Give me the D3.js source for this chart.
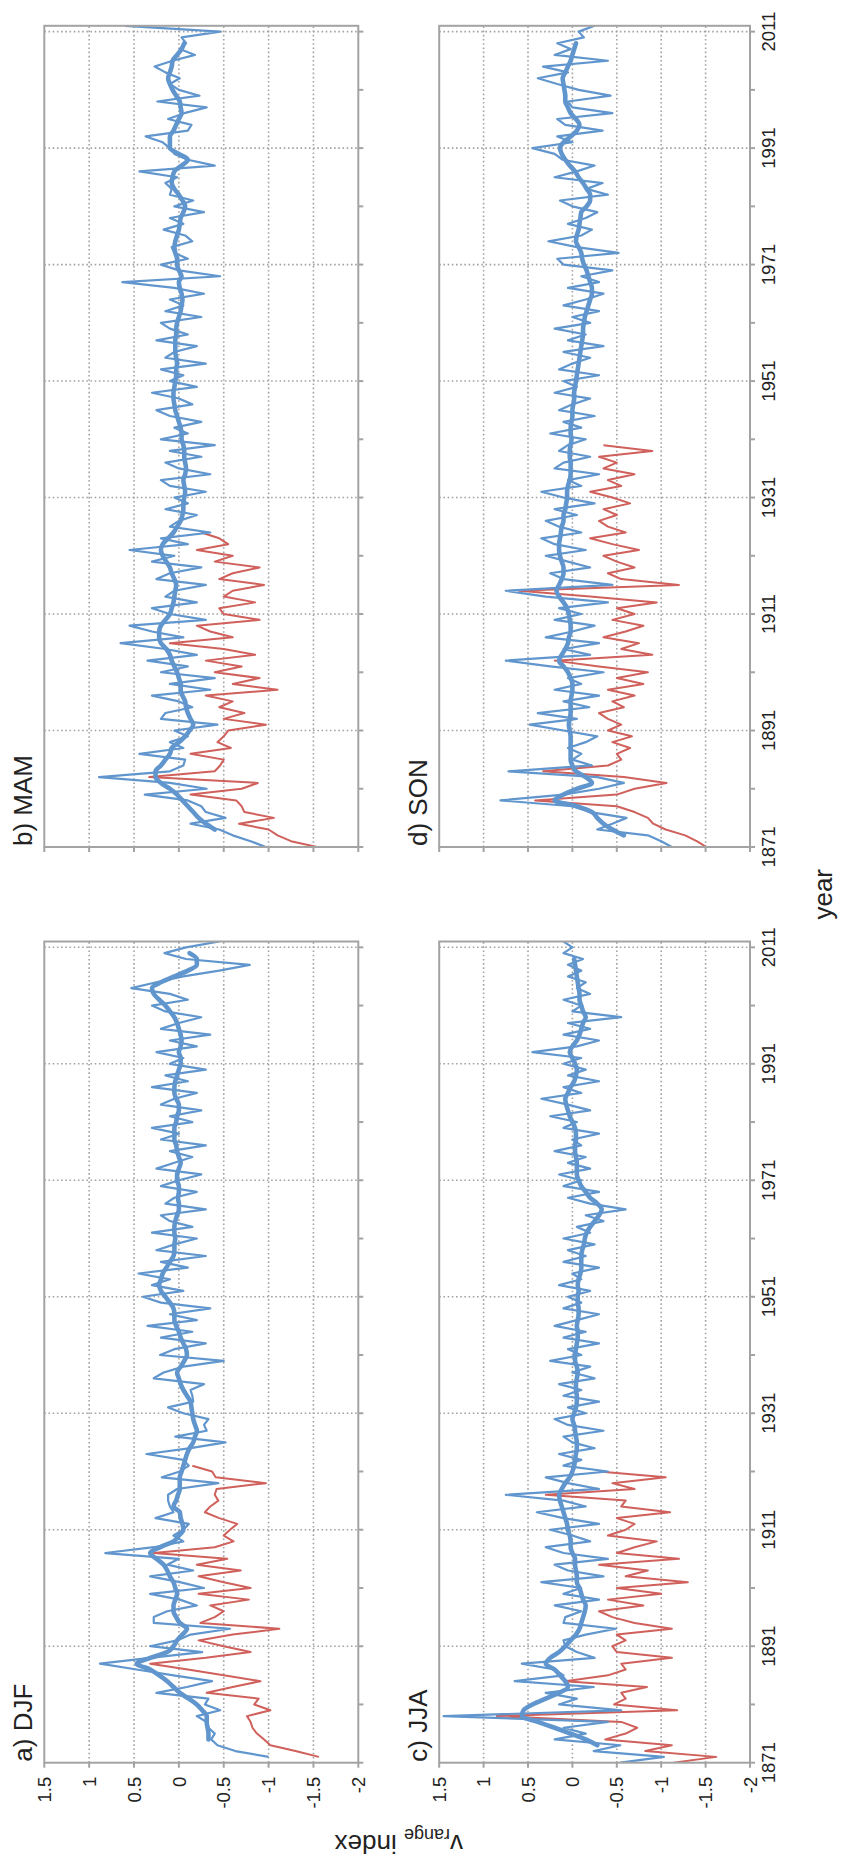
<!DOCTYPE html>
<html>
<head>
<meta charset="utf-8">
<script src="https://cdn.jsdelivr.net/npm/d3@7/dist/d3.min.js"></script>
<style>
  body { margin: 0; background: #fff; }
  text { font-family: "Liberation Sans", Arial, Helvetica, sans-serif; fill: #222; }
</style>
</head>
<body>
<div id="chart"></div>
<script>
// axis values
var valueTicks = [1.5, 1, 0.5, 0, -0.5, -1, -1.5, -2];
var valueGrid = [1, 0.5, 0, -0.5, -1, -1.5];
var yearTicks = [1871, 1881, 1891, 1901, 1911, 1921, 1931, 1941, 1951, 1961, 1971, 1981, 1991, 2001, 2011];
var yearGrid = [1891, 1911, 1931, 1951, 1971, 1991, 2011];
var yearLabels = [1871, 1891, 1911, 1931, 1951, 1971, 1991, 2011];

// DJF (winter of 1871/72 is 1872)
var djfStart = 1872;
var djfBlue = [-1.0, -0.63, -0.43, -0.36, -0.4, -0.33, -0.31, -0.2, -0.46, -0.29,
  -0.33, 0.25, -0.09, -0.37, 0.06, 0.47, 0.88, 0.32, -0.26, 0.32,
  0.02, -0.13, -0.57, 0.28, 0.28, 0.13, -0.2, -0.01, 0.32, -0.28,
  -0.01, 0.32, -0.16, 0.13, 0.0, 0.82, 0.28, -0.05, 0.06, -0.05,
  -0.11, 0.26, 0.06, 0.1, 0.12, 0.12, 0.02, -0.44, 0.19, -0.01,
  -0.11, -0.05, 0.36, -0.13, -0.52, 0.04, -0.31, -0.28, -0.33, -0.05,
  0.12, -0.16, -0.15, -0.13, -0.28, 0.28, 0.17, -0.05, -0.5, 0.21,
  0.05, -0.3, 0.2, -0.15, 0.35, -0.2, 0.1, -0.35, 0.2, 0.4,
  -0.05, 0.3, 0.1, 0.45, -0.1, 0.2, -0.3, 0.25, 0.05, -0.2,
  0.3, -0.15, 0.1, 0.2, -0.3, 0.15, 0.05, -0.2, 0.2, 0.0,
  -0.25, 0.25, 0.05, -0.15, 0.1, -0.3, 0.2, 0.0, 0.3, -0.15,
  0.1, -0.25, 0.2, 0.05, -0.2, 0.3, -0.1, 0.15, -0.3, 0.1,
  -0.05, 0.25, -0.2, 0.1, -0.35, 0.2, 0.0, -0.25, 0.15, 0.3,
  -0.1, 0.1, 0.53, 0.25, -0.05, -0.45, -0.79, -0.08, 0.16, -0.08,
  -0.45];
var djfThickStart = 1875;
var djfThick = [-0.33, -0.33, -0.32, -0.31, -0.31, -0.26, -0.2, -0.11, -0.01, 0.06,
  0.13, 0.22, 0.32, 0.47, 0.32, 0.13, 0.06, 0.02, -0.04, -0.09,
  -0.01, 0.03, 0.06, 0.06, 0.04, 0.02, 0.04, 0.06, 0.1, 0.13,
  0.17, 0.25, 0.32, 0.21, 0.06, 0.0, -0.05, -0.04, -0.02, -0.01,
  0.06, 0.03, 0.01, -0.01, -0.01, -0.01, -0.03, -0.05, -0.07, -0.09,
  -0.12, -0.16, -0.18, -0.2, -0.18, -0.16, -0.15, -0.14, -0.13, -0.09,
  -0.05, -0.02, 0.0, 0.02, -0.02, -0.06, -0.09, -0.08, -0.05, -0.02,
  0.0, 0.03, 0.05, 0.05, 0.06, 0.1, 0.15, 0.2, 0.22, 0.2,
  0.18, 0.14, 0.1, 0.06, 0.05, 0.05, 0.04, 0.05, 0.05, 0.04,
  0.02, 0.0, 0.0, 0.01, 0.0, 0.0, 0.02, 0.02, 0.0, -0.02,
  0.0, 0.02, 0.03, 0.05, 0.05, 0.05, 0.03, 0.02, 0.0, 0.0,
  0.03, 0.05, 0.05, 0.04, 0.02, 0.0, -0.02, -0.02, 0.0, -0.02,
  -0.03, -0.02, 0.0, 0.02, 0.05, 0.1, 0.15, 0.22, 0.28, 0.3,
  0.2, 0.05, -0.1, -0.2, -0.2, -0.12];
var djfRed = [-1.56, -1.3, -1.02, -0.95, -0.87, -0.82, -0.8, -0.76, -1.02, -0.84,
  -0.89, -0.31, -0.6, -0.91, -0.5, -0.1, 0.32, -0.3, -0.8, -0.5,
  -0.22, -0.6, -1.12, -0.24, -0.4, -0.5, -0.35, -0.78, -0.22, -0.8,
  -0.5, -0.22, -0.69, -0.2, -0.54, 0.28, -0.4, -0.61, -0.5, -0.57,
  -0.65, -0.45, -0.29, -0.35, -0.44, -0.4, -0.42, -0.97, -0.41, -0.37,
  -0.15];

// MAM
var mamStart = 1871;
var mamBlue = [-0.97, -0.8, -0.6, -0.45, -0.13, -0.52, -0.3, -0.25, -0.1, 0.38,
  -0.31, 0.1, 0.89, 0.1, -0.05, -0.07, 0.44, -0.05, 0.1, -0.1,
  0.05, -0.43, 0.2, 0.15, -0.15, 0.0, 0.3, -0.35, 0.1, -0.4,
  0.2, -0.1, 0.35, -0.2, 0.15, 0.65, -0.05, 0.3, 0.55, -0.3,
  0.1, 0.3, -0.2, 0.15, 0.05, -0.3, 0.25, 0.1, -0.25, 0.3,
  0.05, 0.55, -0.1, 0.2, -0.35, 0.1, 0.0, -0.2, 0.15, -0.1,
  0.05, -0.3, 0.1, 0.2, -0.35, 0.0, 0.15, -0.25, 0.1, -0.4,
  0.2, -0.1, 0.05, -0.25, 0.1, 0.25, -0.15, 0.0, 0.3, -0.2,
  0.1, -0.05, 0.2, -0.3, 0.15, 0.05, -0.2, 0.25, -0.1, 0.1,
  0.2, -0.25, 0.15, -0.05, 0.1, -0.28, 0.05, 0.63, -0.46, 0.0,
  0.2, -0.1, 0.05, 0.08, -0.15, -0.07, 0.17, -0.05, 0.1, -0.28,
  0.05, -0.16, 0.1, 0.08, 0.15, 0.02, 0.44, -0.4, -0.1, 0.05,
  0.1, 0.18, 0.37, -0.1, -0.14, 0.12, -0.06, -0.31, 0.24, -0.23,
  0.0, 0.1, -0.01, 0.15, 0.27, 0.07, -0.18, -0.01, -0.08, -0.03,
  -0.46, 0.6];
var mamThickStart = 1874;
var mamThick = [-0.4, -0.3, -0.22, -0.16, -0.1, -0.04, 0.02, 0.1, 0.2, 0.26,
  0.26, 0.2, 0.15, 0.1, 0.08, 0.0, -0.07, -0.12, -0.16, -0.13,
  -0.1, -0.08, -0.07, -0.04, -0.02, -0.02, 0.0, 0.02, 0.05, 0.08,
  0.1, 0.14, 0.2, 0.22, 0.22, 0.2, 0.15, 0.1, 0.08, 0.06,
  0.05, 0.04, 0.03, 0.05, 0.08, 0.1, 0.14, 0.18, 0.2, 0.18,
  0.12, 0.06, 0.02, -0.02, -0.04, -0.05, -0.05, -0.06, -0.07, -0.06,
  -0.05, -0.07, -0.08, -0.07, -0.06, -0.06, -0.05, -0.03, -0.03, -0.02,
  0.0, 0.02, 0.04, 0.05, 0.06, 0.06, 0.05, 0.04, 0.03, 0.03,
  0.02, 0.03, 0.04, 0.04, 0.04, 0.03, 0.03, 0.02, 0.0, -0.02,
  -0.03, -0.04, -0.03, -0.01, 0.0, -0.03, 0.0, 0.02, 0.02, 0.04,
  0.05, 0.04, 0.02, 0.0, -0.01, -0.02, -0.05, -0.07, -0.04, 0.0,
  0.05, 0.08, 0.07, 0.05, -0.03, -0.1, 0.0, 0.1, 0.1, 0.1,
  0.06, 0.03, 0.0, -0.03, -0.02, -0.01, 0.03, 0.07, 0.1, 0.12,
  0.1, 0.08, 0.07, 0.02, -0.03, -0.06];
var mamRed = [-1.54, -1.25, -1.1, -1.0, -0.67, -1.06, -0.73, -0.7, -0.64, -0.13,
  -0.7, -0.88, 0.33, -0.4, -0.46, -0.5, -0.13, -0.58, -0.43, -0.5,
  -0.55, -0.97, -0.5, -0.73, -0.45, -0.6, -0.3, -1.1, -0.6, -0.9,
  -0.4, -0.7, -0.3, -0.85, -0.5, 0.1, -0.6, -0.35, -0.2, -0.9,
  -0.5, -0.45, -0.85, -0.5, -0.6, -0.95, -0.45, -0.6, -0.9, -0.4,
  -0.6, -0.2, -0.55, -0.45, -0.25];

// JJA
var jjaStart = 1871;
var jjaBlue = [-0.54, -1.03, -0.24, -0.54, 0.2, -0.15, 0.1, -0.4, 1.45, -0.55,
  0.15, -0.05, 0.3, -0.24, 0.65, 0.1, 0.2, 0.57, -0.25, -0.05,
  0.08, 0.1, -0.15, -0.49, 0.1, 0.08, -0.1, 0.2, -0.3, 0.1,
  -0.1, 0.35, -0.35, 0.05, 0.2, -0.4, 0.1, 0.3, -0.2, 0.0,
  0.25, -0.3, 0.1, 0.4, -0.15, 0.1, 0.75, -0.3, 0.05, 0.3,
  -0.4, 0.1, -0.1, 0.15, -0.25, 0.0, 0.1, -0.35, 0.05, 0.2,
  -0.15, 0.05, -0.3, 0.1, -0.1, 0.15, -0.25, 0.0, -0.2, 0.25,
  -0.1, 0.05, -0.3, 0.1, -0.15, 0.2, -0.05, -0.3, 0.1, -0.1,
  0.05, -0.2, 0.15, -0.1, 0.0, -0.3, 0.1, -0.15, 0.05, -0.25,
  0.1, -0.2, -0.05, -0.35, -0.15, -0.6, -0.2, 0.05, -0.3, 0.1,
  -0.1, 0.15, -0.2, 0.05, -0.15, 0.2, -0.1, 0.0, -0.3, 0.1,
  -0.05, 0.25, -0.2, 0.05, 0.35, -0.1, 0.1, -0.3, 0.05, -0.15,
  0.1, -0.1, 0.45, -0.05, -0.3, 0.1, -0.2, 0.05, -0.55, 0.0,
  -0.1, 0.1, -0.2, -0.05, -0.15, 0.05, -0.1, 0.05, -0.12, 0.1,
  0.0, 0.1];
var jjaThickStart = 1874;
var jjaThick = [-0.28, -0.15, 0.02, 0.2, 0.39, 0.57, 0.55, 0.45, 0.3, 0.15,
  0.05, 0.08, 0.14, 0.2, 0.3, 0.25, 0.15, 0.08, 0.02, -0.04,
  -0.08, -0.1, -0.12, -0.14, -0.15, -0.12, -0.1, -0.08, -0.05, -0.05,
  -0.04, -0.03, -0.03, 0.0, 0.02, 0.02, 0.03, 0.05, 0.06, 0.08,
  0.1, 0.12, 0.14, 0.15, 0.12, 0.08, 0.03, 0.0, -0.02, -0.03,
  -0.04, -0.05, -0.05, -0.04, -0.03, -0.02, 0.0, -0.02, -0.04, -0.05,
  -0.05, -0.04, -0.04, -0.05, -0.06, -0.05, -0.03, -0.03, -0.04, -0.05,
  -0.06, -0.06, -0.05, -0.06, -0.07, -0.07, -0.06, -0.06, -0.07, -0.06,
  -0.07, -0.09, -0.1, -0.1, -0.1, -0.11, -0.13, -0.14, -0.16, -0.2,
  -0.25, -0.3, -0.33, -0.28, -0.2, -0.15, -0.1, -0.07, -0.05, -0.05,
  -0.05, -0.04, -0.03, -0.03, -0.04, -0.04, -0.03, 0.0, 0.03, 0.05,
  0.07, 0.08, 0.05, 0.02, -0.02, -0.04, -0.05, -0.03, 0.0, 0.03,
  0.0, -0.05, -0.08, -0.1, -0.12, -0.15, -0.12, -0.1, -0.08, -0.08,
  -0.07, -0.06, -0.05, -0.04, -0.03, -0.02];
var jjaRed = [-1.14, -1.62, -0.82, -1.12, -0.37, -0.6, -0.73, -0.55, 0.85, -1.18,
  -0.47, -0.6, -0.55, -0.84, 0.08, -0.4, -0.6, -0.55, -1.12, -0.5,
  -0.45, -0.6, -0.5, -1.12, -0.7, -0.45, -0.3, -0.8, -0.4, -1.0,
  -0.5, -1.3, -0.6, -0.85, -0.3, -1.2, -0.5, -0.7, -0.95, -0.4,
  -0.6, -0.7, -0.5, -1.1, -0.55, -0.6, 0.3, -0.7, -0.45, -1.05,
  -0.3];

// SON
var sonStart = 1871;
var sonBlue = [-1.12, -1.0, -0.85, -0.28, -0.45, -0.61, -0.2, 0.0, 0.81, 0.1,
  -0.3, -0.58, -0.28, 0.72, -0.22, 0.0, -0.1, 0.05, -0.15, -0.28,
  0.1, 0.48, -0.05, 0.39, -0.19, 0.1, -0.3, 0.2, -0.1, 0.05,
  -0.35, 0.25, 0.75, -0.2, 0.1, -0.3, 0.3, 0.0, -0.25, 0.2,
  -0.1, 0.15, -0.4, 0.3, 0.75, -0.45, 0.1, 0.25, -0.2, 0.05,
  0.3, -0.15, 0.2, 0.35, -0.1, 0.15, 0.3, -0.05, 0.2, -0.25,
  0.1, 0.35, -0.1, 0.05, -0.3, 0.2, 0.1, -0.2, 0.15, 0.05,
  -0.15, 0.25, -0.1, 0.1, -0.25, 0.15, 0.0, -0.2, 0.2, -0.05,
  0.1, -0.3, 0.15, 0.0, -0.2, 0.1, -0.35, 0.05, -0.15, 0.2,
  -0.2, 0.0, -0.3, 0.1, -0.15, -0.35, 0.05, -0.3, -0.1, -0.45,
  0.1, 0.17, -0.52, -0.05, 0.27, -0.1, -0.22, 0.05, -0.15, -0.28,
  0.0, 0.14, -0.4, -0.16, -0.34, 0.2, -0.05, -0.25, 0.11, 0.2,
  0.45, 0.0, 0.17, -0.34, 0.08, 0.17, -0.45, 0.0, 0.05, -0.43,
  -0.07, 0.17, 0.39, 0.05, 0.33, -0.4, 0.2, 0.02, 0.17, -0.13,
  -0.07, -0.25];
var sonThickStart = 1873;
var sonThick = [-0.58, -0.45, -0.35, -0.28, -0.22, -0.05, 0.2, 0.1, -0.05, -0.22,
  -0.15, -0.04, 0.0, 0.02, 0.02, 0.02, 0.02, 0.02, 0.03, 0.04,
  0.03, 0.02, 0.02, 0.02, 0.01, 0.0, 0.0, 0.02, 0.05, 0.1,
  0.15, 0.12, 0.08, 0.05, 0.04, 0.02, 0.02, 0.03, 0.04, 0.06,
  0.1, 0.15, 0.18, 0.15, 0.12, 0.1, 0.1, 0.12, 0.14, 0.15,
  0.15, 0.14, 0.13, 0.12, 0.1, 0.1, 0.08, 0.07, 0.06, 0.06,
  0.05, 0.03, 0.02, 0.02, 0.02, 0.03, 0.03, 0.02, 0.01, 0.02,
  0.02, 0.01, 0.0, 0.0, -0.01, -0.02, -0.02, -0.03, -0.04, -0.05,
  -0.06, -0.07, -0.08, -0.09, -0.1, -0.11, -0.12, -0.12, -0.13, -0.14,
  -0.16, -0.18, -0.2, -0.22, -0.22, -0.2, -0.18, -0.16, -0.13, -0.11,
  -0.1, -0.07, -0.04, -0.05, -0.07, -0.08, -0.09, -0.1, -0.16, -0.2,
  -0.2, -0.16, -0.12, -0.07, -0.03, 0.03, 0.08, 0.12, 0.14, 0.1,
  0.02, -0.05, -0.08, -0.04, 0.02, 0.05, 0.08, 0.08, 0.09, 0.1,
  0.11, 0.08, 0.05, 0.02, 0.0, -0.02, -0.04];
var sonRed = [-1.51, -1.4, -1.27, -1.05, -0.91, -0.85, -0.7, -0.5, 0.42, -0.5,
  -0.7, -1.06, -0.58, 0.33, -0.4, -0.55, -0.5, -0.65, -0.45, -0.67,
  -0.4, -0.55, -0.4, -0.3, -0.58, -0.45, -0.7, -0.4, -0.8, -0.5,
  -0.85, -0.3, 0.2, -0.9, -0.55, -0.75, -0.35, -0.6, -0.8, -0.45,
  -0.7, -0.5, -0.95, -0.2, 0.6, -1.2, -0.55, -0.4, -0.7, -0.5,
  -0.35, -0.75, -0.45, -0.2, -0.6, -0.4, -0.3, -0.5, -0.35, -0.65,
  -0.45, -0.2, -0.55, -0.4, -0.7, -0.35, -0.5, -0.3, -0.9, -0.35];

var BLUE = "#6096cd", RED = "#d0605b", AXIS = "#a3a3a3";

// the figure is laid out landscape and turned a quarter turn counter-clockwise
var W = 1865, H = 843;
var colX = [[102.3, 923.5], [1018, 1839.2]];
var rowY = [[44.3, 358.3], [439.2, 750]];

var panels = [
  {title: "a) DJF", col: 0, row: 0, start: djfStart, blue: djfBlue, thickStart: djfThickStart, thick: djfThick, red: djfRed},
  {title: "b) MAM", col: 1, row: 0, start: mamStart, blue: mamBlue, thickStart: mamThickStart, thick: mamThick, red: mamRed},
  {title: "c) JJA", col: 0, row: 1, start: jjaStart, blue: jjaBlue, thickStart: jjaThickStart, thick: jjaThick, red: jjaRed},
  {title: "d) SON", col: 1, row: 1, start: sonStart, blue: sonBlue, thickStart: sonThickStart, thick: sonThick, red: sonRed}
];

var svg = d3.select("#chart").append("svg")
    .attr("width", H)
    .attr("height", W);

var fig = svg.append("g")
    .attr("transform", "translate(0," + W + ") rotate(-90)");

function toPoints(values, start) {
  return values.map(function(v, i) { return {year: start + i, value: v}; });
}

panels.forEach(function(p, k) {
  var x = d3.scaleLinear().domain([1871, 2012]).range(colX[p.col]);
  var y = d3.scaleLinear().domain([1.5, -2]).range(rowY[p.row]);
  var x0 = colX[p.col][0], x1 = colX[p.col][1];
  var y0 = rowY[p.row][0], y1 = rowY[p.row][1];

  var g = fig.append("g").attr("class", "panel");

  g.append("clipPath").attr("id", "clip" + k)
    .append("rect")
    .attr("x", x0).attr("y", y0)
    .attr("width", x1 - x0).attr("height", y1 - y0);

  // dotted grid
  g.selectAll("line.vgrid").data(valueGrid).enter().append("line")
    .attr("class", "vgrid")
    .attr("x1", x0).attr("x2", x1)
    .attr("y1", y).attr("y2", y)
    .attr("stroke", AXIS).attr("stroke-width", 1.6)
    .attr("stroke-dasharray", "1.6,2.6");

  g.selectAll("line.ygrid").data(yearGrid).enter().append("line")
    .attr("class", "ygrid")
    .attr("x1", x).attr("x2", x)
    .attr("y1", y0).attr("y2", y1)
    .attr("stroke", AXIS).attr("stroke-width", 1.6)
    .attr("stroke-dasharray", "1.6,2.6");

  // series
  var line = d3.line()
    .x(function(d) { return x(d.year); })
    .y(function(d) { return y(d.value); });

  var plot = g.append("g").attr("clip-path", "url(#clip" + k + ")");

  plot.append("path")
    .datum(toPoints(p.red, p.start))
    .attr("d", line)
    .attr("fill", "none").attr("stroke", RED).attr("stroke-width", 2)
    .attr("stroke-linejoin", "round");

  plot.append("path")
    .datum(toPoints(p.blue, p.start))
    .attr("d", line)
    .attr("fill", "none").attr("stroke", BLUE).attr("stroke-width", 2.2)
    .attr("stroke-linejoin", "round");

  plot.append("path")
    .datum(toPoints(p.thick, p.thickStart))
    .attr("d", line.curve(d3.curveMonotoneX))
    .attr("fill", "none").attr("stroke", BLUE).attr("stroke-width", 4.6)
    .attr("stroke-linejoin", "round").attr("stroke-linecap", "round");

  // frame
  g.append("rect")
    .attr("x", x0).attr("y", y0)
    .attr("width", x1 - x0).attr("height", y1 - y0)
    .attr("fill", "none").attr("stroke", AXIS).attr("stroke-width", 2);

  // tick marks
  g.selectAll("line.vtick").data(valueTicks).enter().append("line")
    .attr("class", "vtick")
    .attr("x1", x0 - 5).attr("x2", x0)
    .attr("y1", y).attr("y2", y)
    .attr("stroke", AXIS).attr("stroke-width", 2);

  g.selectAll("line.ytick").data(yearTicks).enter().append("line")
    .attr("class", "ytick")
    .attr("x1", x).attr("x2", x)
    .attr("y1", y1).attr("y2", y1 + 5)
    .attr("stroke", AXIS).attr("stroke-width", 2);

  // labels
  if (p.col == 0) {
    g.selectAll("text.vlab").data(valueTicks).enter().append("text")
      .attr("class", "vlab")
      .attr("x", x0 - 14)
      .attr("y", y)
      .attr("dy", "0.36em")
      .attr("text-anchor", "end")
      .style("font-size", "18.5px")
      .text(function(d) { return d; });
  }
  if (p.row == 1) {
    g.selectAll("text.ylab").data(yearLabels).enter().append("text")
      .attr("class", "ylab")
      .attr("x", x)
      .attr("y", y1 + 25)
      .attr("text-anchor", "middle")
      .style("font-size", "18.5px")
      .text(function(d) { return d; });
  }

  g.append("text")
    .attr("x", x0 + 1)
    .attr("y", y0 - 12)
    .style("font-size", "26px")
    .text(p.title);
});

// axis titles
fig.append("text")
  .attr("x", (colX[0][0] + colX[1][1]) / 2)
  .attr("y", 832)
  .attr("text-anchor", "middle")
  .style("font-size", "26px")
  .text("year");

var ytitle = fig.append("text")
  .attr("transform", "translate(30," + ((rowY[0][1] + rowY[1][0]) / 2) + ") rotate(-90)")
  .attr("text-anchor", "middle")
  .style("font-size", "26px");
ytitle.append("tspan").text("v");
ytitle.append("tspan").attr("dy", 6).style("font-size", "18px").text("range");
ytitle.append("tspan").attr("dy", -6).text(" index");
</script>
</body>
</html>
